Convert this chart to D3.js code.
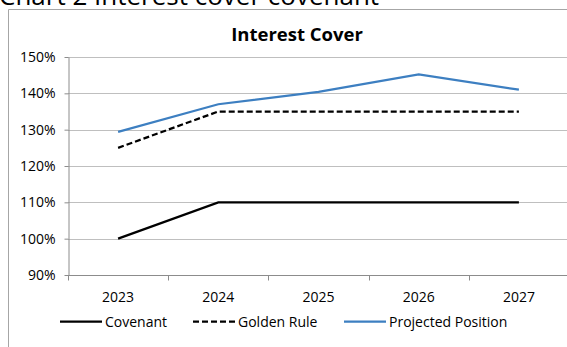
<!DOCTYPE html>
<html>
<head>
<meta charset="utf-8">
<script src="https://cdn.jsdelivr.net/npm/d3@7"></script>
<style>
  html, body { margin: 0; padding: 0; background: #fff; overflow: hidden; }
  svg { display: block; font-family: "Open Sans", "Liberation Sans", sans-serif; }
</style>
</head>
<body>
<svg id="chart" width="567" height="347"></svg>
<script>
// Interest cover ratios by year
const years = ["2023", "2024", "2025", "2026", "2027"];
const covenant = [1.00, 1.10, 1.10, 1.10, 1.10];
const goldenRule = [1.25, 1.35, 1.35, 1.35, 1.35];
const projected = [1.294, 1.370, 1.404, 1.452, 1.410];
const yTicks = [0.9, 1.0, 1.1, 1.2, 1.3, 1.4, 1.5];

const seriesList = [
  { name: "Covenant", values: covenant, color: "#000000", dash: null },
  { name: "Golden Rule", values: goldenRule, color: "#000000", dash: "6,3" },
  { name: "Projected Position", values: projected, color: "#3d7fc1", dash: null }
];

const svg = d3.select("#chart");
const margin = { left: 68, top: 57, right: 569, bottom: 275 };

const x = d3.scaleBand().domain(years).range([margin.left, margin.right]);
const y = d3.scaleLinear().domain([0.9, 1.5]).range([margin.bottom, margin.top]);

// Document heading above the chart frame
svg.append("text")
  .attr("x", -1).attr("y", 5)
  .attr("font-size", 26)
  .attr("fill", "#000")
  .text("Chart 2 Interest cover covenant");

// Chart frame
svg.append("path")
  .attr("d", "M8.5,347 V9.5 H567")
  .attr("fill", "none")
  .attr("stroke", "#a6a6a6")
  .attr("stroke-width", 1);

// Title
svg.append("text")
  .attr("x", 297).attr("y", 41)
  .attr("text-anchor", "middle")
  .attr("font-size", 18.5)
  .attr("font-weight", "bold")
  .attr("fill", "#000")
  .text("Interest Cover");

// Horizontal gridlines
svg.append("g")
  .selectAll("line")
  .data(yTicks)
  .join("line")
  .attr("x1", margin.left).attr("x2", 567)
  .attr("y1", d => Math.round(y(d)) + 0.5)
  .attr("y2", d => Math.round(y(d)) + 0.5)
  .attr("stroke", "#bfbfbf");

// Y axis
const yAxis = svg.append("g")
  .attr("transform", `translate(${margin.left + 0.5},0)`)
  .call(d3.axisLeft(y).tickValues(yTicks).tickFormat(d3.format(".0%")).tickSize(4).tickSizeOuter(0));
yAxis.select(".domain").attr("stroke", "#8c8c8c");
yAxis.selectAll(".tick line").attr("stroke", "#8c8c8c");
yAxis.selectAll(".tick text")
  .attr("x", -13)
  .attr("font-size", 14)
  .attr("font-family", "Open Sans, sans-serif")
  .attr("fill", "#000");

// X axis with ticks at category boundaries
const xAxisG = svg.append("g")
  .attr("transform", `translate(0,${Math.round(margin.bottom) + 0.5})`);
xAxisG.append("line")
  .attr("x1", margin.left).attr("x2", 567)
  .attr("stroke", "#8c8c8c");
const boundaries = years.map(d => x(d)).concat([x(years[years.length - 1]) + x.bandwidth()]);
xAxisG.selectAll("line.tk")
  .data(boundaries)
  .join("line")
  .attr("class", "tk")
  .attr("x1", d => Math.round(d) + 0.5).attr("x2", d => Math.round(d) + 0.5)
  .attr("y1", 0).attr("y2", 5)
  .attr("stroke", "#8c8c8c");
xAxisG.selectAll("text")
  .data(years)
  .join("text")
  .attr("x", d => x(d) + x.bandwidth() / 2)
  .attr("y", 26.5)
  .attr("text-anchor", "middle")
  .attr("font-size", 14)
  .attr("fill", "#000")
  .text(d => d);

// Series lines
const line = d3.line()
  .x((d, i) => x(years[i]) + x.bandwidth() / 2)
  .y(d => y(d));

svg.append("g")
  .selectAll("path")
  .data(seriesList)
  .join("path")
  .attr("d", s => line(s.values))
  .attr("fill", "none")
  .attr("stroke", s => s.color)
  .attr("stroke-width", 2.25)
  .attr("stroke-dasharray", s => s.dash);

// Legend
const legendPos = [60, 193, 344];
const legend = svg.append("g");
seriesList.forEach((s, i) => {
  const g = legend.append("g").attr("transform", `translate(${legendPos[i]},321.5)`);
  g.append("line")
    .attr("x1", 0).attr("x2", 42)
    .attr("stroke", s.color)
    .attr("stroke-width", 2.25)
    .attr("stroke-dasharray", s.dash);
  g.append("text")
    .attr("x", 45).attr("y", 5)
    .attr("font-size", 14)
    .attr("fill", "#000")
    .text(s.name);
});
</script>
</body>
</html>
